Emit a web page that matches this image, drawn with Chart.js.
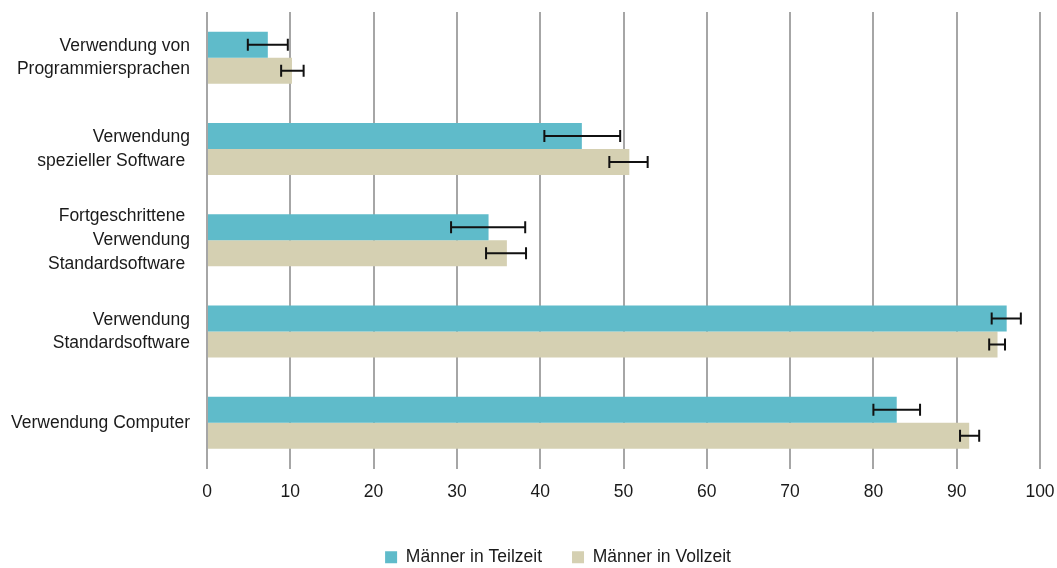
<!DOCTYPE html>
<html>
<head>
<meta charset="utf-8">
<script src="https://cdn.jsdelivr.net/npm/chart.js@4"></script>
<style>
    html, body { margin: 0; padding: 0; background: #fff; overflow: hidden; }
    #wrap { width: 1057px; height: 568px; position: relative; }
</style>
</head>
<body>
<div id="wrap"><canvas id="skills-chart"></canvas></div>
<script>
const categories = [
    ['Verwendung von', 'Programmiersprachen'],
    ['Verwendung', 'spezieller Software '],
    ['Fortgeschrittene ', 'Verwendung', 'Standardsoftware '],
    ['Verwendung', 'Standardsoftware'],
    'Verwendung Computer'
];
const teilzeit = [7.3, 45.0, 33.8, 96.0, 82.8];
const teilzeitLow = [4.9, 40.5, 29.3, 94.2, 80.0];
const teilzeitHigh = [9.7, 49.6, 38.2, 97.7, 85.6];
const vollzeit = [10.2, 50.7, 36.0, 94.9, 91.5];
const vollzeitLow = [8.9, 48.3, 33.5, 93.9, 90.4];
const vollzeitHigh = [11.6, 52.9, 38.3, 95.8, 92.7];
const xTicks = [0, 10, 20, 30, 40, 50, 60, 70, 80, 90, 100];

const errorBars = {
    id: 'errorBars',
    afterDatasetsDraw(chart) {
        const ctx = chart.ctx;
        const xScale = chart.scales.x;
        const ranges = [[teilzeitLow, teilzeitHigh], [vollzeitLow, vollzeitHigh]];
        ctx.save();
        ctx.strokeStyle = '#111';
        ctx.lineWidth = 2;
        chart.data.datasets.forEach(function (ds, i) {
            const meta = chart.getDatasetMeta(i);
            meta.data.forEach(function (bar, j) {
                const x1 = xScale.getPixelForValue(ranges[i][0][j]);
                const x2 = xScale.getPixelForValue(ranges[i][1][j]);
                const y = bar.y;
                ctx.beginPath();
                ctx.moveTo(x1, y); ctx.lineTo(x2, y);
                ctx.moveTo(x1, y - 6); ctx.lineTo(x1, y + 6);
                ctx.moveTo(x2, y - 6); ctx.lineTo(x2, y + 6);
                ctx.stroke();
            });
        });
        ctx.restore();
    }
};

// push the legend a bit lower and to the right, like in the original
const legendShift = {
    id: 'legendShift',
    afterLayout(chart) {
        chart.legend.top += 8;
        chart.legend.bottom += 8;
        chart.legend.left += 38;
        chart.legend.right += 38;
    }
};

Chart.defaults.font.family = "'Liberation Sans', Arial, sans-serif";
Chart.defaults.color = '#1a1a1a';

new Chart(document.getElementById('skills-chart'), {
    type: 'bar',
    data: {
        labels: categories,
        datasets: [{
            label: 'Männer in Teilzeit',
            data: teilzeit,
            backgroundColor: '#5FBBCA',
            categoryPercentage: 0.57,
            barPercentage: 1.0
        }, {
            label: 'Männer in Vollzeit',
            data: vollzeit,
            backgroundColor: '#D5D0B2',
            categoryPercentage: 0.57,
            barPercentage: 1.0
        }]
    },
    options: {
        indexAxis: 'y',
        responsive: true,
        maintainAspectRatio: false,
        animation: false,
        layout: {
            padding: { top: 12, right: 17, left: 0, bottom: 0 }
        },
        plugins: {
            legend: {
                position: 'bottom',
                labels: {
                    boxWidth: 12,
                    boxHeight: 12,
                    padding: 30,
                    font: { size: 17.5 }
                }
            },
            tooltip: { enabled: false }
        },
        scales: {
            x: {
                min: 0,
                max: 100,
                afterBuildTicks: function (scale) {
                    scale.ticks = xTicks.map(v => ({ value: v }));
                },
                afterFit: function (scale) {
                    scale.height = 42;
                    scale.paddingLeft = 0;
                    scale.paddingRight = 0;
                },
                grid: {
                    color: '#A6A6A6',
                    lineWidth: 2,
                    drawTicks: false
                },
                border: { display: false },
                ticks: {
                    padding: 13,
                    font: { size: 17.5 }
                }
            },
            y: {
                afterFit: function (scale) {
                    scale.width = 207;
                    scale.paddingTop = 0;
                    scale.paddingBottom = 0;
                },
                grid: { display: false },
                border: { display: false },
                ticks: {
                    padding: 9,
                    font: { size: 17.5, lineHeight: 1.35 }
                }
            }
        }
    },
    plugins: [errorBars, legendShift]
});
</script>
</body>
</html>
